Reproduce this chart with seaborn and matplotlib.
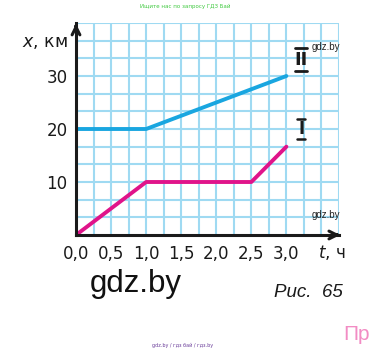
import matplotlib
matplotlib.use("Agg")
import matplotlib.pyplot as plt
import seaborn as sns
import numpy as np
import pandas as pd

# --- Data ---
t_values = [0.0, 1.0, 2.5, 3.0]
x_body_1 = [0, 10, 10, 50 / 3]      # motion I (pink)
t_body_2 = [0.0, 1.0, 3.0]
x_body_2 = [20, 20, 30]             # motion II (blue)
xtick_vals = [0.0, 0.5, 1.0, 1.5, 2.0, 2.5, 3.0]
xtick_labels = ["0,0", "0,5", "1,0", "1,5", "2,0", "2,5", "3,0"]
ytick_vals = [10, 20, 30]

df1 = pd.DataFrame({"t": t_values, "x": x_body_1})
df2 = pd.DataFrame({"t": t_body_2, "x": x_body_2})

# --- Style ---
sns.set_style("white")
plt.rcParams["font.family"] = ["DejaVu Sans"]

W, H = 369, 352
fig = plt.figure(figsize=(W / 100, H / 100), dpi=100)
ax = fig.add_axes([76 / W, 1 - 235 / H, (339 - 76) / W, (235 - 23) / H])

GRID = "#9fdaf2"
BLUE = "#19a6e0"
PINK = "#e0148a"

# grid cells: 0.25 h by 10/3 km
for gx in np.arange(0.25, 3.76, 0.25):
    ax.axvline(gx, color=GRID, lw=1.5, zorder=0)
for gy in np.arange(10 / 3, 40.01, 10 / 3):
    ax.axhline(gy, color=GRID, lw=1.5, zorder=0)

sns.lineplot(data=df2, x="t", y="x", ax=ax, color=BLUE, lw=2.8, zorder=3)
sns.lineplot(data=df1, x="t", y="x", ax=ax, color=PINK, lw=2.8, zorder=3)

ax.set_xlim(0, 3.75)
ax.set_ylim(0, 40)
ax.set_xlabel("")
ax.set_ylabel("")
for s in ["top", "right"]:
    ax.spines[s].set_visible(False)
for s in ["left", "bottom"]:
    ax.spines[s].set_linewidth(2.2)
    ax.spines[s].set_color("#1a1a1a")
    ax.spines[s].set_zorder(5)

ax.set_xticks(xtick_vals)
ax.set_xticklabels(xtick_labels)
ax.set_yticks(ytick_vals)
ax.tick_params(axis="both", direction="in", length=5, width=2, color="#1a1a1a",
               labelsize=12, labelcolor="#1a1a1a")
ax.tick_params(axis="x", pad=7)
ax.tick_params(axis="y", pad=6)

# axis arrows
ax.annotate("", xy=(1.015, 0), xytext=(0.98, 0), xycoords="axes fraction",
            arrowprops=dict(arrowstyle="->", lw=2.2, color="#1a1a1a",
                            mutation_scale=14), annotation_clip=False)
ax.annotate("", xy=(0, 1.01), xytext=(0, 0.97), xycoords="axes fraction",
            arrowprops=dict(arrowstyle="->", lw=2.2, color="#1a1a1a",
                            mutation_scale=14), annotation_clip=False)

# roman numeral labels
ax.text(3.21, 33.1, "II", ha="center", va="center", fontsize=13,
        fontweight="bold", color="#1a1a1a", zorder=4)
ax.plot([3.12, 3.30], [35.2, 35.2], color="#1a1a1a", lw=2, zorder=4)
ax.plot([3.12, 3.30], [31.0, 31.0], color="#1a1a1a", lw=2, zorder=4)
ax.text(3.21, 20.0, "I", ha="center", va="center", fontsize=12,
        fontweight="bold", color="#1a1a1a", zorder=4)
ax.plot([3.15, 3.27], [21.9, 21.9], color="#1a1a1a", lw=1.8, zorder=4)
ax.plot([3.15, 3.27], [18.1, 18.1], color="#1a1a1a", lw=1.8, zorder=4)


def ftext(px, py, s, **kw):
    fig.text(px / W, 1 - py / H, s, **kw)


# axis names
ftext(68, 42, "$\\it{x}$, км", ha="right", va="center", fontsize=12.5,
      color="#1a1a1a")
ftext(318, 252, "$\\it{t}$, ч", ha="left", va="center", fontsize=12,
      color="#1a1a1a")

# captions and watermarks
ftext(136, 292, "gdz.by", ha="center", va="baseline", fontsize=22.5,
      color="#111111", family="Liberation Sans")
ftext(343, 297, "Рис.  65", ha="right", va="baseline", fontsize=13.5,
      style="italic", color="#1a1a1a", family="Liberation Sans")
ftext(312, 47, "gdz.by", ha="left", va="center", fontsize=7, color="#222222",
      family="Liberation Sans")
ftext(312, 215, "gdz.by", ha="left", va="center", fontsize=7, color="#222222",
      family="Liberation Sans")
ftext(185, 6, "Ищите нас по запросу ГДЗ Бай", ha="center", va="center",
      fontsize=4, color="#3ec93e")
ftext(183, 345, "gdz.by / гдз бай / гдз.by", ha="center", va="center",
      fontsize=3.5, color="#6a3d9a")
ftext(343, 334, "Пр", ha="left", va="center", fontsize=15, color="#f28cc4",
      family="Liberation Sans")

fig.savefig("out.png", dpi=100)
